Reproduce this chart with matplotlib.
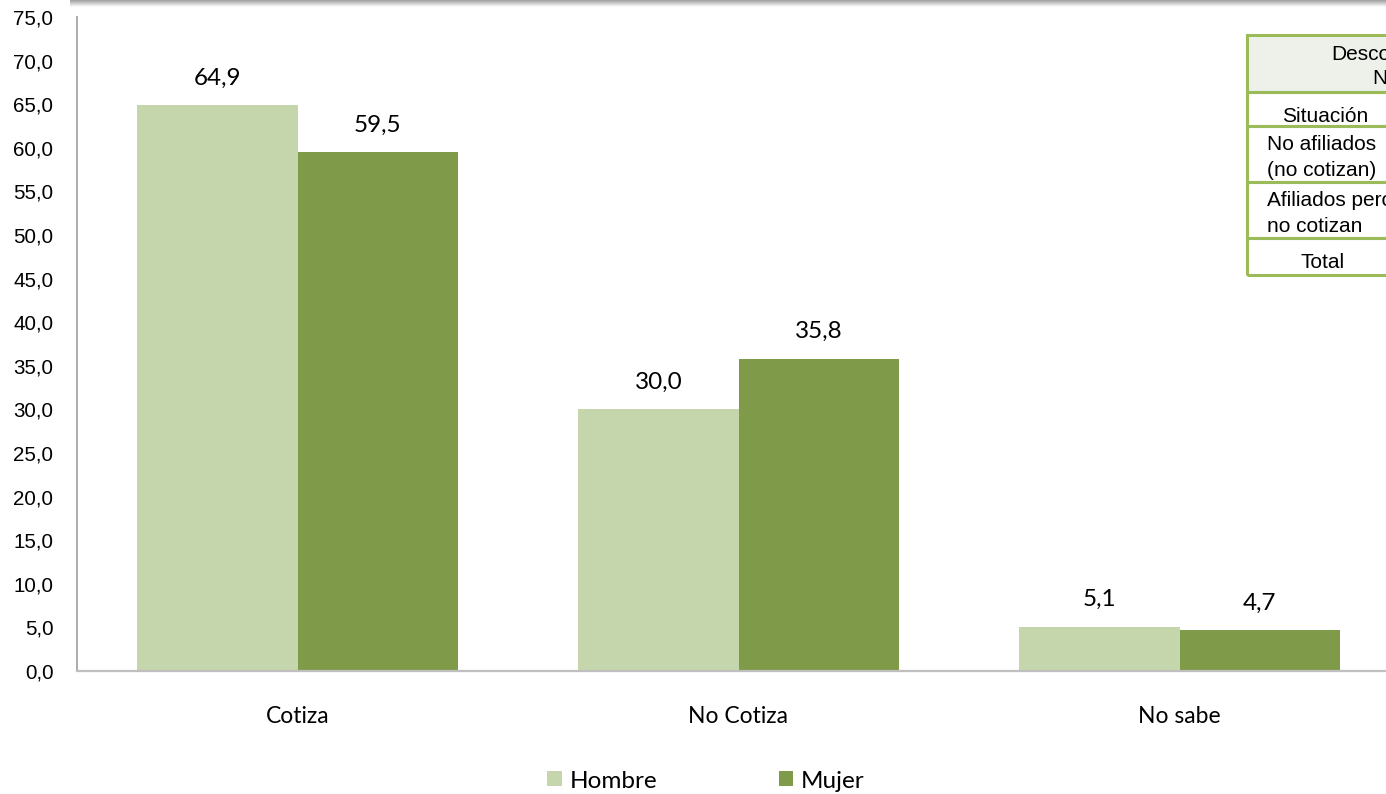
import numpy as np
import matplotlib
matplotlib.use("Agg")
import matplotlib.pyplot as plt
from matplotlib.patches import Rectangle

# datos
categorias = ["Cotiza", "No Cotiza", "No sabe"]
hombre = [64.9, 30.0, 5.1]
mujer = [59.5, 35.8, 4.7]
series = ["Hombre", "Mujer"]
yticks = np.arange(0, 80, 5)

c_hombre = "#C5D6AC"
c_mujer = "#7F9A48"
W, H = 1386, 794

fig = plt.figure(figsize=(W / 100, H / 100), dpi=100)
fig.patch.set_facecolor("white")

# sombra gris arriba
sh = fig.add_axes([70 / W, 1 - 7 / H, 1 - 70 / W, 7 / H])
grad = np.linspace(0.62, 1.0, 50).reshape(-1, 1)
sh.imshow(grad, aspect="auto", cmap="gray", vmin=0, vmax=1, extent=[0, 1, 0, 1])
sh.axis("off")

# ejes principales
ax = fig.add_axes([77 / W, (H - 671) / H, 1323 / W, (671 - 17) / H])
x = np.arange(len(categorias))
w = 0.363
b1 = ax.bar(x - w / 2, hombre, w, color=c_hombre, label=series[0])
b2 = ax.bar(x + w / 2, mujer, w, color=c_mujer, label=series[1])

ax.set_xlim(-0.5, 2.5)
ax.set_ylim(0, 75)
ax.set_yticks(yticks)
ax.yaxis.set_major_formatter(matplotlib.ticker.FuncFormatter(lambda v, p: ("%.1f" % v).replace(".", ",")))
ax.set_xticks(x)
ax.set_xticklabels(categorias, fontfamily="Lato", fontsize=16.5)
ax.tick_params(axis="x", length=0, pad=25)
ax.tick_params(axis="y", length=0, pad=17, labelsize=14.8)
for lab in ax.get_yticklabels():
    lab.set_fontfamily("Liberation Sans")

for s in ["top", "right"]:
    ax.spines[s].set_visible(False)
ax.spines["left"].set_color("#A6A6A6")
ax.spines["bottom"].set_color("#BFBFBF")
ax.spines["left"].set_linewidth(1.3)
ax.spines["bottom"].set_linewidth(1.6)

for bars in (b1, b2):
    for r in bars:
        v = r.get_height()
        ax.annotate(("%.1f" % v).replace(".", ","),
                    (r.get_x() + r.get_width() / 2, v),
                    xytext=(0, 12), textcoords="offset points",
                    ha="center", va="bottom", fontfamily="Lato", fontsize=17.5)

# leyenda
fig.legend(handles=[b1, b2], labels=series, loc="center", ncol=2,
           bbox_to_anchor=(706 / W, 1 - 781 / H), frameon=False,
           prop={"family": "Lato", "size": 17.5}, handlelength=0.58,
           handleheight=0.58, handletextpad=0.33, columnspacing=5.0,
           borderaxespad=0)

# tabla superpuesta a la derecha (recortada)
filas_y = [35, 92, 126, 182, 238, 275]
verde = "#9BBB59"
fig.patches.append(Rectangle((1247 / W, 1 - 92 / H), 200 / W, 57 / H,
                             transform=fig.transFigure, facecolor="#EEF1E9",
                             edgecolor="none", zorder=1))
for i in range(len(filas_y) - 1):
    y0, y1 = filas_y[i], filas_y[i + 1]
    fig.patches.append(Rectangle((1247 / W, 1 - y1 / H), 200 / W, (y1 - y0) / H,
                                 transform=fig.transFigure, facecolor="none",
                                 edgecolor=verde, linewidth=2.2, zorder=2))

tf = dict(family="Liberation Sans", size=15, color="black")
def ftxt(px, py, s, ha="left"):
    fig.text(px / W, 1 - py / H, s, ha=ha, va="center", **tf)

ftxt(1331, 54, "Desco")
ftxt(1372, 79, "N")
ftxt(1325, 116, "Situación", ha="center")
ftxt(1267, 145, "No afiliados")
ftxt(1267, 170, "(no cotizan)")
ftxt(1267, 201, "Afiliados pero")
ftxt(1267, 226, "no cotizan")
ftxt(1323, 263, "Total", ha="center")

fig.savefig("out.png", dpi=100)
